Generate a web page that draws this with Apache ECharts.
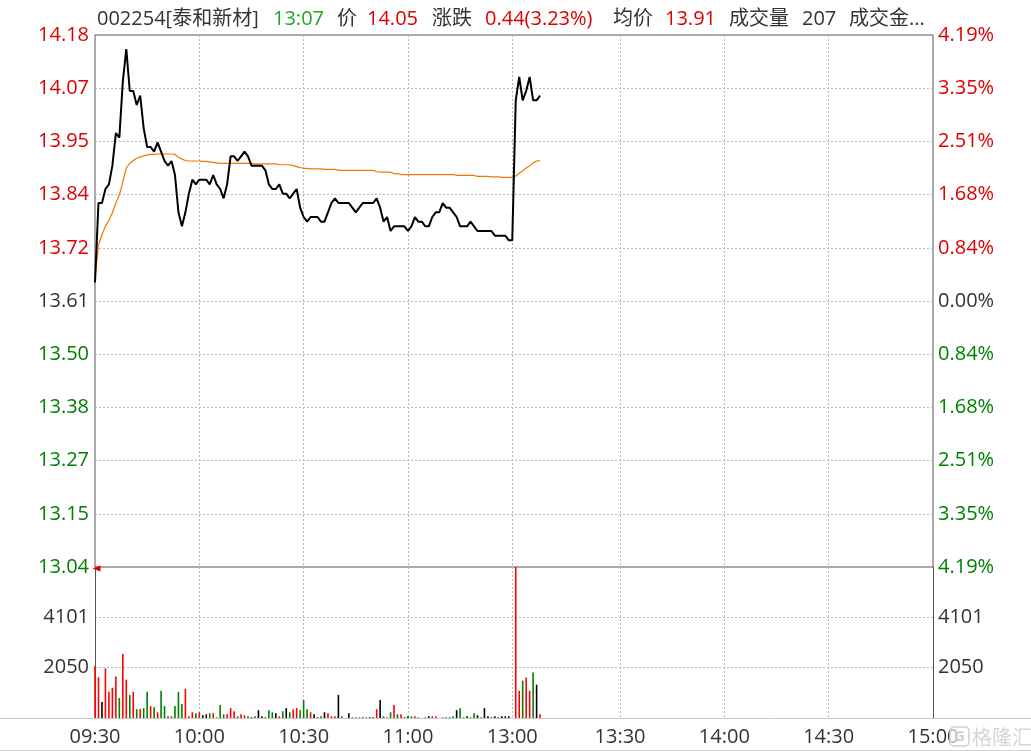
<!DOCTYPE html>
<html><head><meta charset="utf-8">
<script src="https://cdn.jsdelivr.net/npm/echarts@6/dist/echarts.min.js"></script>
<style>html,body{margin:0;padding:0;background:#fff;}#c{width:1031px;height:751px;}</style>
</head><body><div id="c"></div>
<script>
// ---------- data ----------
const prevClose = 13.61;
const priceTicks = [13.04, 13.154, 13.268, 13.382, 13.496, 13.61, 13.724, 13.838, 13.952, 14.066, 14.18];
const priceGridTicks = [13.154, 13.268, 13.382, 13.496, 13.61, 13.724, 13.838, 13.952, 14.066];
const volumeTicks = [2050.5, 4101];
const volumeMax = 6151.5;
const timeTickIndex = [0, 30, 60, 90, 120, 151, 181, 211, 241];
const timeGridIndex = [30, 60, 90, 120, 151, 181, 211];
const timeTickLabels = ['09:30', '10:00', '10:30', '11:00', '13:00', '13:30', '14:00', '14:30', '15:00'];

const price = [
 13.65,13.82,13.82,13.85,13.86,13.90,13.97,13.96,14.08,14.15,
 14.06,14.06,14.03,14.05,13.98,13.94,13.94,13.93,13.95,13.93,
 13.91,13.90,13.91,13.88,13.80,13.77,13.80,13.84,13.87,13.86,
 13.87,13.87,13.87,13.86,13.88,13.86,13.85,13.83,13.86,13.92,
 13.92,13.91,13.92,13.93,13.92,13.90,13.90,13.90,13.90,13.89,
 13.86,13.85,13.85,13.86,13.84,13.84,13.83,13.84,13.85,13.81,
 13.79,13.78,13.79,13.79,13.79,13.78,13.78,13.80,13.82,13.83,
 13.82,13.82,13.82,13.82,13.81,13.80,13.81,13.82,13.82,13.82,
 13.82,13.83,13.81,13.78,13.79,13.76,13.77,13.77,13.77,13.77,
 13.76,13.77,13.79,13.78,13.78,13.77,13.77,13.79,13.80,13.80,
 13.82,13.81,13.81,13.80,13.79,13.77,13.77,13.77,13.78,13.77,
 13.76,13.76,13.76,13.76,13.76,13.75,13.75,13.75,13.75,13.74,
 13.74,14.04,14.09,14.04,14.06,14.09,14.04,14.04,14.05
];
const avgPrice = [
 13.660,13.730,13.752,13.770,13.783,13.799,13.820,13.837,13.866,13.895,
 13.905,13.911,13.916,13.919,13.921,13.923,13.924,13.924,13.925,13.925,
 13.925,13.925,13.925,13.924,13.918,13.914,13.911,13.910,13.910,13.910,
 13.910,13.909,13.909,13.908,13.907,13.906,13.905,13.905,13.905,13.905,
 13.905,13.905,13.905,13.905,13.905,13.905,13.904,13.904,13.904,13.904,
 13.904,13.904,13.904,13.902,13.902,13.902,13.902,13.900,13.898,13.896,
 13.894,13.894,13.893,13.893,13.893,13.893,13.892,13.892,13.892,13.892,
 13.890,13.890,13.890,13.890,13.890,13.890,13.890,13.890,13.890,13.890,
 13.890,13.887,13.886,13.886,13.886,13.886,13.883,13.883,13.881,13.881,
 13.881,13.881,13.881,13.881,13.881,13.881,13.881,13.881,13.881,13.881,
 13.881,13.881,13.881,13.881,13.879,13.879,13.879,13.879,13.879,13.879,
 13.877,13.877,13.877,13.877,13.876,13.876,13.876,13.875,13.875,13.875,
 13.875,13.878,13.884,13.889,13.895,13.900,13.906,13.910,13.911
];
const volume = [
 2119,1662,651,2022,1066,1233,1690,817,2604,1565,
 942,1066,360,360,402,1066,485,443,235,1108,
 485,69,69,485,1066,568,1191,69,235,194,
 235,111,152,194,194,28,526,152,152,402,
 277,69,152,111,69,28,69,318,69,28,
 318,235,194,69,277,402,235,360,402,318,
 734,360,235,152,28,69,235,194,69,69,
 942,69,0,194,28,28,28,28,28,28,
 28,360,734,69,28,235,526,152,152,28,
 69,69,69,28,0,28,69,69,69,0,
 28,28,28,69,318,402,28,69,28,194,
 111,28,402,69,28,69,28,69,69,69,
 0,6151,1108,1523,1648,1108,1856,1357,152
];
const volumeDir = [
 'r','r','k','r','r','r','r','g','r','r',
 'g','r','g','r','g','g','r','g','r','g',
 'g','g','r','g','g','g','r','r','r','g',
 'r','k','k','g','r','g','g','g','r','r',
 'r','g','r','r','g','k','g','k','k','k',
 'g','g','k','r','g','k','g','r','r','g',
 'g','g','r','k','k','g','k','r','r','r',
 'k','g','k','k','g','g','r','k','r','k',
 'k','r','k','g','r','g','r','g','r','k',
 'k','g','r','g','k','g','k','r','r','k',
 'r','g','k','g','k','g','g','k','g','g',
 'k','g','k','k','k','k','k','k','k','k',
 'k','r','r','g','r','r','g','k','r'
];

// ---------- chart ----------
const FONT = '"Open Sans","Noto Sans CJK SC",sans-serif';
const RED = '#dd0000', GREEN = '#008000', DARK = '#333333';
const barColors = { r: '#ff0000', g: '#008000', k: '#000000' };
const gridLine = { show: true, lineStyle: { color: '#b8b8b8', width: 1, type: [2, 2] } };
const LABEL_PAD = [4, 0, 0, 0];

function priceColor(v) {
  v = parseFloat(v);
  if (v > prevClose + 1e-6) return RED;
  if (v < prevClose - 1e-6) return GREEN;
  return DARK;
}

const chart = echarts.init(document.getElementById('c'), null, { renderer: 'canvas' });

const headerItems = [
  ['002254[泰和新材]', 97, DARK], ['13:07', 273, '#1ea81e'], ['价', 337, DARK],
  ['14.05', 367, RED], ['涨跌', 432, DARK], ['0.44(3.23%)', 485, RED],
  ['均价', 613, DARK], ['13.91', 665, RED], ['成交量', 729, DARK],
  ['207', 802, DARK], ['成交金...', 849, DARK]
];

const graphics = headerItems.map(([t, x, c]) => ({
  type: 'text', x: x, y: 19, z: 100,
  style: { text: t, fill: c, font: '20px ' + FONT, verticalAlign: 'middle', textVerticalAlign: 'middle' }
}));
graphics.push(
  { type: 'line', z: 50, shape: { x1: 0, y1: 718.5, x2: 1031, y2: 718.5 }, style: { stroke: '#c8c8c8', lineWidth: 1 } },
  { type: 'line', z: 50, shape: { x1: 0, y1: 750.5, x2: 1031, y2: 750.5 }, style: { stroke: '#d0d0d0', lineWidth: 1 } },
  { type: 'polygon', z: 60, shape: { points: [[92.5, 568.5], [100.5, 565.5], [100.5, 571.5]] }, style: { fill: '#dd0000' } },
  { type: 'rect', z: 60, shape: { x: 950, y: 727, width: 19, height: 19, r: 4 }, style: { fill: 'rgba(255,255,255,0.6)', stroke: '#cfcfcf', lineWidth: 1.5 } },
  { type: 'text', z: 61, x: 959.5, y: 737, style: { text: 'G', fill: '#cfcfcf', font: 'bold 15px ' + FONT, align: 'center', verticalAlign: 'middle', textAlign: 'center', textVerticalAlign: 'middle' } },
  { type: 'text', z: 61, x: 972, y: 737, style: { text: '格隆汇', fill: '#d6d6d6', font: '20px "Noto Sans CJK SC"', verticalAlign: 'middle', textVerticalAlign: 'middle' } }
);

const option = {
  animation: false,
  backgroundColor: '#ffffff',
  grid: [
    { left: 95, right: 98, top: 35, height: 532, show: true, borderColor: '#555555', borderWidth: 1, backgroundColor: 'transparent' },
    { left: 95, right: 98, top: 567, height: 151 }
  ],
  xAxis: [
    {
      type: 'value', gridIndex: 0, min: 0, max: 241,
      axisLine: { show: false }, axisLabel: { show: false },
      axisTick: { show: false, customValues: timeGridIndex },
      splitLine: gridLine
    },
    {
      type: 'value', gridIndex: 1, min: 0, max: 241,
      axisLine: { show: false },
      axisTick: { show: false, customValues: timeGridIndex },
      axisLabel: {
        show: true, customValues: timeTickIndex, margin: 5, padding: LABEL_PAD,
        color: DARK, fontSize: 20, fontFamily: FONT,
        formatter: v => timeTickLabels[timeTickIndex.indexOf(Math.round(Number(v)))] || ''
      },
      splitLine: gridLine
    }
  ],
  yAxis: [
    {
      type: 'value', gridIndex: 0, position: 'left', min: 13.04, max: 14.18,
      axisLine: { show: false },
      axisTick: { show: false, customValues: priceGridTicks },
      axisLabel: {
        customValues: priceTicks, margin: 6, fontSize: 20, fontFamily: FONT, padding: LABEL_PAD,
        formatter: v => Number(v).toFixed(2), color: v => priceColor(v)
      },
      splitLine: gridLine
    },
    {
      type: 'value', gridIndex: 0, position: 'right', min: 13.04, max: 14.18,
      axisLine: { show: false },
      axisTick: { show: false, customValues: priceGridTicks },
      axisLabel: {
        customValues: priceTicks, margin: 5, fontSize: 20, fontFamily: FONT, padding: LABEL_PAD,
        formatter: v => (Math.abs(Number(v) - prevClose) / prevClose * 100).toFixed(2) + '%',
        color: v => priceColor(v)
      },
      splitLine: { show: false }
    },
    {
      type: 'value', gridIndex: 1, position: 'left', min: 0, max: volumeMax,
      axisLine: { show: true, lineStyle: { color: '#555555', width: 1 } },
      axisTick: { show: false, customValues: volumeTicks },
      axisLabel: {
        customValues: volumeTicks, margin: 6, fontSize: 20, fontFamily: FONT, color: DARK, padding: LABEL_PAD,
        formatter: v => String(Math.floor(Number(v)))
      },
      splitLine: gridLine
    },
    {
      type: 'value', gridIndex: 1, position: 'right', min: 0, max: volumeMax,
      axisLine: { show: true, lineStyle: { color: '#555555', width: 1 } },
      axisTick: { show: false, customValues: volumeTicks },
      axisLabel: {
        customValues: volumeTicks, margin: 5, fontSize: 20, fontFamily: FONT, color: DARK, padding: LABEL_PAD,
        formatter: v => String(Math.floor(Number(v)))
      },
      splitLine: { show: false }
    }
  ],
  series: [
    {
      name: '均价', type: 'line', xAxisIndex: 0, yAxisIndex: 0, z: 3,
      showSymbol: false, symbol: 'none',
      lineStyle: { color: '#f07800', width: 1.2 },
      data: avgPrice.map((v, i) => [i, v])
    },
    {
      name: '价格', type: 'line', xAxisIndex: 0, yAxisIndex: 0, z: 4,
      showSymbol: false, symbol: 'none',
      lineStyle: { color: '#000000', width: 2 },
      data: price.map((v, i) => [i, v])
    },
    {
      name: '成交量', type: 'bar', xAxisIndex: 1, yAxisIndex: 2, barWidth: 1.6,
      data: volume.map((v, i) => ({ value: [i, v], itemStyle: { color: barColors[volumeDir[i]] || '#000' } }))
    }
  ],
  graphic: graphics
};
chart.setOption(option);
</script>
</body></html>
